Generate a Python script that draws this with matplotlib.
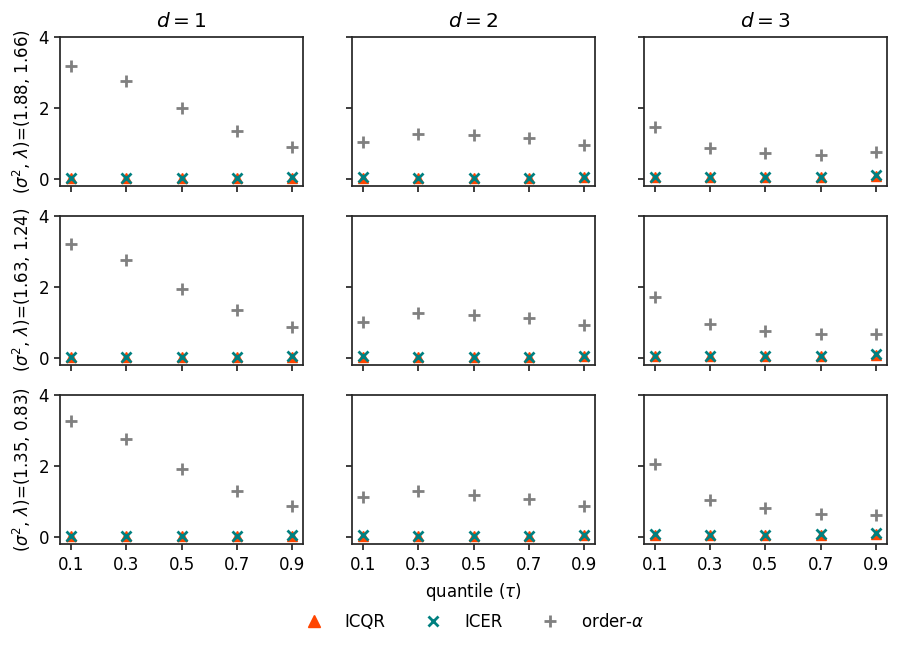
import matplotlib
matplotlib.use("Agg")
import matplotlib.pyplot as plt
import numpy as np

quantiles = [0.1, 0.3, 0.5, 0.7, 0.9]
dims = ["$d=1$", "$d=2$", "$d=3$"]
row_labels = [r"$(\sigma^2,\,\lambda)$=(1.88, 1.66)",
              r"$(\sigma^2,\,\lambda)$=(1.63, 1.24)",
              r"$(\sigma^2,\,\lambda)$=(1.35, 0.83)"]

# order-alpha values [row][col]
order_alpha = [
    [[3.18, 2.76, 1.98, 1.35, 0.88], [1.02, 1.25, 1.22, 1.16, 0.96], [1.47, 0.86, 0.71, 0.68, 0.74]],
    [[3.21, 2.74, 1.93, 1.34, 0.86], [1.00, 1.26, 1.19, 1.12, 0.92], [1.71, 0.95, 0.75, 0.66, 0.67]],
    [[3.25, 2.74, 1.89, 1.29, 0.85], [1.11, 1.28, 1.17, 1.07, 0.87], [2.05, 1.02, 0.80, 0.64, 0.61]],
]
icqr = [
    [[0.02, 0.01, 0.01, 0.01, 0.03], [0.03, 0.02, 0.02, 0.02, 0.04], [0.05, 0.04, 0.04, 0.05, 0.08]],
    [[0.02, 0.01, 0.01, 0.01, 0.03], [0.03, 0.02, 0.02, 0.02, 0.04], [0.05, 0.04, 0.04, 0.05, 0.08]],
    [[0.02, 0.01, 0.01, 0.01, 0.03], [0.03, 0.02, 0.02, 0.02, 0.04], [0.05, 0.04, 0.04, 0.05, 0.08]],
]
icer = [
    [[0.03, 0.02, 0.02, 0.02, 0.04], [0.04, 0.03, 0.03, 0.03, 0.05], [0.06, 0.05, 0.05, 0.06, 0.10]],
    [[0.03, 0.02, 0.02, 0.02, 0.04], [0.04, 0.03, 0.03, 0.03, 0.05], [0.06, 0.05, 0.05, 0.06, 0.10]],
    [[0.03, 0.02, 0.02, 0.02, 0.04], [0.04, 0.03, 0.03, 0.03, 0.05], [0.06, 0.05, 0.05, 0.06, 0.10]],
]

plt.rcParams.update({
    "font.family": "DejaVu Sans",
    "font.size": 12,
    "axes.linewidth": 1.25,
    "axes.edgecolor": "#262626",
    "xtick.major.size": 4.3,
    "ytick.major.size": 4.3,
    "xtick.major.pad": 4.5,
    "ytick.major.pad": 3.5,
    "xtick.major.width": 1.25,
    "ytick.major.width": 1.25,
    "xtick.color": "#262626",
    "ytick.color": "#262626",
    "xtick.labelcolor": "black",
    "ytick.labelcolor": "black",
})

fig, axes = plt.subplots(3, 3, figsize=(9, 6.46), dpi=100, sharex=True, sharey=True)
fig.subplots_adjust(left=0.0667, right=0.9856, top=0.9432, bottom=0.1584, wspace=0.2, hspace=0.2)

for i in range(3):
    for j in range(3):
        ax = axes[i][j]
        h1, = ax.plot(quantiles, icqr[i][j], linestyle="none", marker="^", color="orangered",
                      markersize=7.5, label="ICQR")
        h2, = ax.plot(quantiles, icer[i][j], linestyle="none", marker="x", color="teal",
                      markersize=7, markeredgewidth=2, label="ICER")
        h3, = ax.plot(quantiles, order_alpha[i][j], linestyle="none", marker="+", color="gray",
                      markersize=8, markeredgewidth=2, label=r"order-$\alpha$")
        ax.set_ylim(-0.2, 4)
        ax.set_yticks([0, 2, 4])
        ax.set_xticks(quantiles)
        ax.set_xticklabels([str(q) for q in quantiles])
        if i == 0:
            ax.set_title(dims[j], fontsize=14.5, pad=7)
        if j == 0:
            ax.set_ylabel(row_labels[i], fontsize=12)

axes[2][1].set_xlabel(r"quantile ($\tau$)", fontsize=12, labelpad=5)

fig.legend([h1, h2, h3], ["ICQR", "ICER", r"order-$\alpha$"], loc="lower center",
           ncol=3, frameon=False, bbox_to_anchor=(0.523, 0.0), columnspacing=1.85,
           handletextpad=0.85, markerscale=1.1, fontsize=12)

fig.savefig("out.png", dpi=100)
